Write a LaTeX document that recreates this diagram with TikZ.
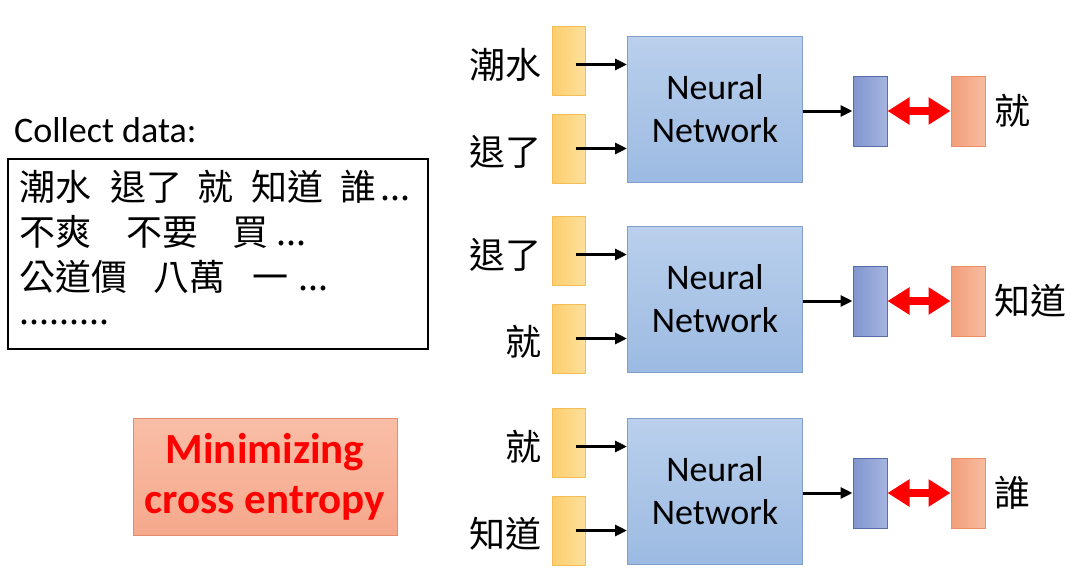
\documentclass[tikz,border=0pt]{standalone}
\usepackage{fontspec}
\setmainfont{Carlito}
\newfontfamily\cjk{Noto Sans CJK TC}
\usetikzlibrary{arrows.meta,positioning}

\definecolor{tokA}{RGB}{252,205,110}
\definecolor{tokB}{RGB}{254,224,155}
\definecolor{tokline}{RGB}{246,188,85}
\definecolor{nnA}{RGB}{186,208,236}
\definecolor{nnB}{RGB}{156,186,226}
\definecolor{nnline}{RGB}{130,158,204}
\definecolor{outA}{RGB}{130,150,206}
\definecolor{outB}{RGB}{165,180,224}
\definecolor{outline}{RGB}{88,108,170}
\definecolor{tgtA}{RGB}{242,158,122}
\definecolor{tgtB}{RGB}{248,188,160}
\definecolor{tgtline}{RGB}{236,140,105}
\definecolor{lossA}{RGB}{249,190,166}
\definecolor{lossB}{RGB}{245,168,140}
\definecolor{lossline}{RGB}{228,140,110}

\tikzset{
    token/.style={draw=tokline,line width=1pt,left color=tokA,right color=tokB,minimum width=33pt,minimum height=69pt,inner sep=0pt},
    nnbox/.style={draw=nnline,line width=1pt,top color=nnA,bottom color=nnB,minimum width=175pt,minimum height=146pt,align=center,font=\fontsize{36}{43}\selectfont},
    outbox/.style={draw=outline,line width=1pt,left color=outA,right color=outB,minimum width=34pt,minimum height=70pt,inner sep=0pt},
    tgtbox/.style={draw=tgtline,line width=1pt,left color=tgtA,right color=tgtB,minimum width=34pt,minimum height=70pt,inner sep=0pt},
    word/.style={font=\cjk\fontsize{36}{36}\selectfont,inner sep=0pt},
    feed/.style={->,line width=3pt},
    match/.style={{Triangle[length=22pt,width=26pt]}-{Triangle[length=22pt,width=26pt]},line width=8pt,red}
}

\begin{document}
\begin{tikzpicture}[x=1pt,y=-1pt,>={Triangle[length=12pt,width=11pt]}]
    \useasboundingbox (0,0) rectangle (1080,573);
    \node [anchor=west,inner sep=0pt,font=\fontsize{36}{36}\selectfont] (title) at (14,130) {Collect data:};
    \node [draw,line width=1.2pt,minimum width=420pt,minimum height=190pt] (corpus) at (218,254) {};
    \node [word,anchor=west] (line1) at (19,187) {潮水\hspace{19pt}退了\hspace{15pt}就\hspace{18pt}知道\hspace{17pt}誰\hspace{4pt}...};
    \node [word,anchor=west] (line2) at (19,232) {不爽\hspace{35pt}不要\hspace{34pt}買\hspace{8pt}...};
    \node [word,anchor=west] (line3) at (19,277) {公道價\hspace{26pt}八萬\hspace{27pt}一\hspace{10pt}...};
    \node [word,anchor=west] (line4) at (19,322) {.........};
    \node [draw=lossline,line width=1pt,top color=lossA,bottom color=lossB,minimum width=264pt,minimum height=117pt,align=center,text=red,font=\bfseries\fontsize{43}{50}\selectfont] (loss) at (265,476.5) {Minimizing\\cross entropy};
    \foreach \r/\dy/\wa/\wb/\wc in {1/0/潮水/退了/就,2/190/退了/就/知道,3/382/就/知道/誰} {
        \node [token] (ia\r) at (568.5,60.5+\dy) {};
        \node [token] (ib\r) at (568.5,148.5+\dy) {};
        \node [word,left=10pt of ia\r,yshift=-4pt] (la\r) {\wa};
        \node [word,left=10pt of ib\r,yshift=-3pt] (lb\r) {\wb};
        \node [nnbox] (nn\r) at (715,109+\dy) {Neural\\Network};
        \coordinate (pa\r) at ([xshift=7pt,yshift=-4pt]ia\r.center);
        \coordinate (pb\r) at ([xshift=7pt]ib\r.center);
        \draw [feed] (pa\r) -- (nn\r.west |- pa\r);
        \draw [feed] (pb\r) -- (nn\r.west |- pb\r);
        \node [outbox] (ob\r) at (870,111+\dy) {};
        \node [tgtbox] (tg\r) at (968,111+\dy) {};
        \node [word,right=9pt of tg\r] (lc\r) {\wc};
        \draw [feed] (nn\r.east |- ob\r.west) -- (ob\r.west);
        \draw [match] (ob\r.east) -- (tg\r.west);
    }
\end{tikzpicture}
\end{document}
